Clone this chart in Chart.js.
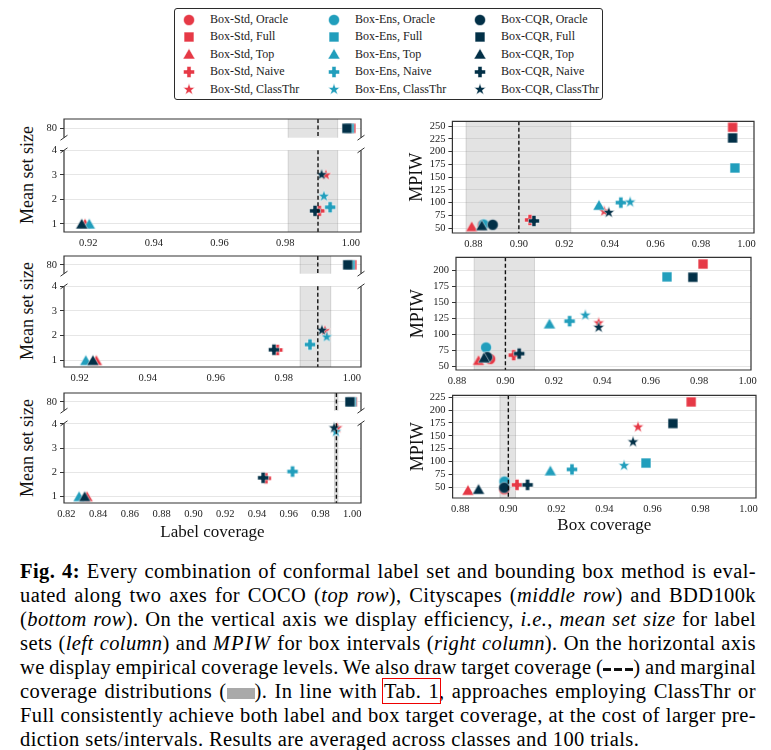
<!DOCTYPE html>
<html>
<head>
<meta charset="utf-8">
<title>Fig. 4</title>
<script src="https://cdn.jsdelivr.net/npm/chart.js@4.4.1/dist/chart.umd.min.js"></script>
<style>
html,body{margin:0;padding:0;background:#fff;}
body{position:relative;width:771px;height:750px;overflow:hidden;font-family:'Liberation Serif','Times New Roman',serif;color:#111;}
canvas{position:absolute;}
#legendBox{position:absolute;left:174px;top:8px;width:429px;height:92px;box-sizing:border-box;border:1.4px solid #2b2b2b;border-radius:3px;}
.legText{position:absolute;font-size:12px;line-height:14px;white-space:nowrap;color:#222;}
.ytitle{position:absolute;font-size:18px;white-space:nowrap;transform:translate(-50%,-50%) rotate(-90deg);color:#111;}
.cl{position:absolute;left:20px;width:736px;height:24px;line-height:24px;font-size:20.5px;letter-spacing:0.4px;white-space:nowrap;color:#000;}
.dash{display:inline-block;width:30px;height:3px;vertical-align:middle;background:repeating-linear-gradient(90deg,#111 0 8px,transparent 8px 11px);}
.gbox{display:inline-block;width:28px;height:11px;background:#a9a9a9;vertical-align:-1px;}
.ref{outline:1.5px solid #e00;outline-offset:1px;}
</style>
</head>
<body>
<div id="legendBox"></div>
<div class="ytitle" style="left:27px;top:175px;">Mean set size</div>
<div class="ytitle" style="left:27px;top:311px;">Mean set size</div>
<div class="ytitle" style="left:27px;top:448px;">Mean set size</div>

<div class="cl" style="top:559px"><span><b>Fig. 4:</b> Every combination of conformal label set and bounding box method is eval-</span></div>
<div class="cl" style="top:583px"><span>uated along two axes for COCO (<i>top row</i>), Cityscapes (<i>middle row</i>) and BDD100k</span></div>
<div class="cl" style="top:607px"><span>(<i>bottom row</i>). On the vertical axis we display efficiency, <i>i.e.</i>, <i>mean set size</i> for label</span></div>
<div class="cl" style="top:631px"><span>sets (<i>left column</i>) and <i style="letter-spacing:1.2px">MPIW</i> for box intervals (<i>right column</i>). On the horizontal axis</span></div>
<div class="cl" style="top:655px"><span>we display empirical coverage levels. We also draw target coverage (<span class="dash"></span>) and marginal</span></div>
<div class="cl" style="top:679px"><span>coverage distributions (<span class="gbox"></span>). In line with <span class="ref">Tab. 1</span>, approaches employing ClassThr or</span></div>
<div class="cl" style="top:703px"><span>Full consistently achieve both label and box target coverage, at the cost of larger pre-</span></div>
<div class="cl" style="top:727px"><span>diction sets/intervals. Results are averaged across classes and 100 trials.</span></div>

<script>
// ---------------- DATA ----------------
const BOX_METHODS = ['Box-Std', 'Box-Ens', 'Box-CQR'];
const LABEL_METHODS = ['Oracle', 'Full', 'Top', 'Naive', 'ClassThr'];

// Label sets (left column): [Oracle, Full, Top, Naive, ClassThr]
const COCO_LBL_STD_X = [null, 1.0000, 0.9190, 0.9904, 0.9924];
const COCO_LBL_STD_Y = [null, 80, 1.00, 1.53, 3.02];
const COCO_LBL_ENS_X = [null, 0.9995, 0.9203, 0.9937, 0.9918];
const COCO_LBL_ENS_Y = [null, 80, 1.00, 1.68, 2.15];
const COCO_LBL_CQR_X = [null, 0.9988, 0.9180, 0.9891, 0.9911];
const COCO_LBL_CQR_Y = [null, 80, 1.00, 1.53, 3.03];

const CITY_LBL_STD_X = [null, 1.0000, 0.9249, 0.9781, 0.9921];
const CITY_LBL_STD_Y = [null, 80, 1.00, 1.42, 2.22];
const CITY_LBL_ENS_X = [null, 0.9995, 0.9218, 0.9877, 0.9926];
const CITY_LBL_ENS_Y = [null, 80, 1.00, 1.64, 1.97];
const CITY_LBL_CQR_X = [null, 0.9988, 0.9239, 0.9771, 0.9912];
const CITY_LBL_CQR_Y = [null, 80, 1.00, 1.43, 2.24];

const BDD_LBL_STD_X = [null, 1.0000, 0.8330, 0.9456, 0.9905];
const BDD_LBL_STD_Y = [null, 80, 1.00, 1.75, 3.85];
const BDD_LBL_ENS_X = [null, 0.9995, 0.8280, 0.9624, 0.9897];
const BDD_LBL_ENS_Y = [null, 80, 1.00, 2.03, 3.69];
const BDD_LBL_CQR_X = [null, 0.9985, 0.8315, 0.9439, 0.9886];
const BDD_LBL_CQR_Y = [null, 80, 1.00, 1.77, 3.85];

// Box intervals (right column): [Oracle, Full, Top, Naive, ClassThr]
const COCO_BOX_STD_X = [0.8841, 0.9939, 0.8793, 0.9049, 0.9375];
const COCO_BOX_STD_Y = [56, 248, 53, 66, 84];
const COCO_BOX_ENS_X = [0.8845, 0.9949, 0.9352, 0.9448, 0.9489];
const COCO_BOX_ENS_Y = [57, 168, 95, 100, 102];
const COCO_BOX_CQR_X = [0.8885, 0.9939, 0.8837, 0.9066, 0.9395];
const COCO_BOX_CQR_Y = [56.5, 227, 55, 64, 81.5];

const CITY_BOX_STD_X = [0.8937, 0.9816, 0.8889, 0.9034, 0.9385];
const CITY_BOX_STD_Y = [62, 210, 60, 68, 119];
const CITY_BOX_ENS_X = [0.8920, 0.9667, 0.9182, 0.9265, 0.9330];
const CITY_BOX_ENS_Y = [80, 190, 117, 121, 131];
const CITY_BOX_CQR_X = [0.8925, 0.9774, 0.8912, 0.9057, 0.9385];
const CITY_BOX_CQR_Y = [65, 189.5, 64, 70.5, 112];

const BDD_BOX_STD_X = [0.8983, 0.9761, 0.8832, 0.9036, 0.9540];
const BDD_BOX_STD_Y = [46, 216, 44, 54.5, 168];
const BDD_BOX_ENS_X = [0.8984, 0.9573, 0.9175, 0.9265, 0.9482];
const BDD_BOX_ENS_Y = [61, 97, 82, 84.6, 93];
const BDD_BOX_CQR_X = [0.8983, 0.9685, 0.8876, 0.9080, 0.9519];
const BDD_BOX_CQR_Y = [49, 174, 46, 54.5, 139];

// Targets and marginal coverage bands
const LABEL_TARGET = 0.99;
const BOX_TARGET = 0.90;
const LABEL_BANDS = [[0.9809, 0.9960], [0.9848, 0.9938], [0.9888, 0.9910]];
const BOX_BANDS = [[0.8768, 0.9228], [0.8871, 0.9120], [0.8965, 0.9030]];

// Tick labels
const LBL_COV_TICKS = [0.92, 0.94, 0.96, 0.98, 1.00];
const LBL_COV_TICKS_BDD = [0.82, 0.84, 0.86, 0.88, 0.90, 0.92, 0.94, 0.96, 0.98, 1.00];
const SET_SIZE_TICKS = [1, 2, 3, 4];
const SET_SIZE_TOP_TICKS = [80];
const BOX_COV_TICKS = [0.88, 0.90, 0.92, 0.94, 0.96, 0.98, 1.00];
const MPIW_TICKS_COCO = [50, 75, 100, 125, 150, 175, 200, 225, 250];
const MPIW_TICKS_CITY = [50, 75, 100, 125, 150, 175, 200];
const MPIW_TICKS_BDD = [50, 75, 100, 125, 150, 175, 200, 225];

// ---------------- STYLE ----------------
const COLORS = ['#E63946', '#219EBC', '#023047'];
const SHAPES = ['circle', 'square', 'triangle', 'plus', 'star'];
const FONT = "'Liberation Serif', 'Times New Roman', serif";
Chart.defaults.font.family = FONT;
Chart.defaults.color = '#222';

function makeMarker(shape, color, r) {
  const S = Math.ceil(r * 2.5) + 2;
  const c = document.createElement('canvas');
  c.width = S; c.height = S;
  const g = c.getContext('2d');
  g.translate(S / 2, S / 2);
  g.beginPath();
  if (shape === 'circle') {
    g.arc(0, 0, r, 0, Math.PI * 2);
  } else if (shape === 'square') {
    g.rect(-r * 0.9, -r * 0.9, r * 1.8, r * 1.8);
  } else if (shape === 'triangle') {
    g.moveTo(0, -r * 1.0); g.lineTo(r * 1.1, r * 0.9); g.lineTo(-r * 1.1, r * 0.9);
  } else if (shape === 'plus') {
    const a = r, b = r * 0.37;
    const pts = [[-b,-a],[b,-a],[b,-b],[a,-b],[a,b],[b,b],[b,a],[-b,a],[-b,b],[-a,b],[-a,-b],[-b,-b]];
    pts.forEach((p, i) => i ? g.lineTo(p[0], p[1]) : g.moveTo(p[0], p[1]));
  } else if (shape === 'star') {
    for (let i = 0; i < 10; i++) {
      const rr = i % 2 ? r * 0.45 : r * 1.12;
      const ang = -Math.PI / 2 + i * Math.PI / 5;
      const px = rr * Math.cos(ang), py = rr * Math.sin(ang) + r * 0.08;
      i ? g.lineTo(px, py) : g.moveTo(px, py);
    }
  }
  g.closePath();
  g.fillStyle = color;
  g.fill();
  g.lineWidth = 0.6;
  g.strokeStyle = 'rgba(255,255,255,0.85)';
  g.stroke();
  return c;
}
const MARKERS = COLORS.map(col => SHAPES.map(sh => makeMarker(sh, col, 5.5)));

// ---------------- LEGEND ----------------
const LEG_MX = [189, 334, 480];
const LEG_TX = [210, 355, 501];
const LEG_Y0 = 19.5, LEG_DY = 17.4;
BOX_METHODS.forEach((b, bi) => LABEL_METHODS.forEach((m, mi) => {
  const mk = makeMarker(SHAPES[mi], COLORS[bi], 5.5);
  mk.style.left = (LEG_MX[bi] - mk.width / 2) + 'px';
  mk.style.top = (LEG_Y0 + mi * LEG_DY - mk.height / 2) + 'px';
  document.body.appendChild(mk);
  const t = document.createElement('div');
  t.className = 'legText';
  t.textContent = b + ', ' + m;
  t.style.left = LEG_TX[bi] + 'px';
  t.style.top = (LEG_Y0 + mi * LEG_DY - 7.5) + 'px';
  document.body.appendChild(t);
}));

// ---------------- DECORATION PLUGIN ----------------
const deco = {
  id: 'deco',
  beforeDatasetsDraw(chart, args, o) {
    const {ctx, chartArea: a} = chart;
    const xs = chart.scales.x;
    if (o.band) {
      const x0 = xs.getPixelForValue(o.band[0]), x1 = xs.getPixelForValue(o.band[1]);
      ctx.save();
      ctx.fillStyle = 'rgba(150,150,150,0.27)';
      ctx.fillRect(x0, a.top, x1 - x0, a.bottom - a.top);
      ctx.strokeStyle = 'rgba(140,140,140,0.3)';
      ctx.lineWidth = 1;
      ctx.beginPath();
      ctx.moveTo(x0, a.top); ctx.lineTo(x0, a.bottom);
      ctx.moveTo(x1, a.top); ctx.lineTo(x1, a.bottom);
      ctx.stroke();
      ctx.restore();
    }
  },
  afterDatasetsDraw(chart, args, o) {
    if (o.target == null) return;
    const {ctx, chartArea: a} = chart;
    const xt = chart.scales.x.getPixelForValue(o.target);
    ctx.save();
    ctx.strokeStyle = '#111';
    ctx.lineWidth = 1.4;
    ctx.setLineDash([4, 2.5]);
    ctx.beginPath();
    ctx.moveTo(xt, a.top); ctx.lineTo(xt, a.bottom);
    ctx.stroke();
    ctx.restore();
  },
  afterDraw(chart, args, o) {
    const {ctx, chartArea: a} = chart;
    ctx.save();
    ctx.strokeStyle = '#333';
    ctx.lineWidth = 1.2;
    ctx.beginPath();
    if (o.spines === 'box') {
      ctx.rect(a.left, a.top, a.right - a.left, a.bottom - a.top);
    } else if (o.spines === 'upper') {
      ctx.moveTo(a.left, a.bottom); ctx.lineTo(a.left, a.top); ctx.lineTo(a.right, a.top); ctx.lineTo(a.right, a.bottom);
    } else if (o.spines === 'lower') {
      ctx.moveTo(a.left, a.top); ctx.lineTo(a.left, a.bottom); ctx.lineTo(a.right, a.bottom); ctx.lineTo(a.right, a.top);
    }
    ctx.stroke();
    if (o.spines === 'upper' || o.spines === 'lower') {
      const y = o.spines === 'upper' ? a.bottom : a.top;
      ctx.lineWidth = 1;
      ctx.beginPath();
      [a.left, a.right].forEach(x => {
        ctx.moveTo(x - 3.5, y + 2.5); ctx.lineTo(x + 3.5, y - 2.5);
      });
      ctx.stroke();
    }
    ctx.restore();
  }
};

// ---------------- CHART FACTORY ----------------
function makeChart(c) {
  const padT = c.padT != null ? c.padT : 10;
  const padB = c.padB != null ? c.padB : 0;
  const padR = 14;
  const canvas = document.createElement('canvas');
  const W = Math.round((c.R - c.L) + c.yW + padR);
  const H = Math.round((c.B - c.T) + padT + c.xH + padB);
  canvas.width = W; canvas.height = H;
  canvas.style.width = W + 'px'; canvas.style.height = H + 'px';
  canvas.style.left = (c.L - c.yW) + 'px';
  canvas.style.top = (c.T - padT) + 'px';
  document.body.appendChild(canvas);

  const datasets = c.series.map((s, b) => ({
    label: BOX_METHODS[b],
    data: s.X.map((x, i) => ({x: x, y: s.Y[i], m: i})).filter(p => p.x !== null),
    pointStyle: ctx => MARKERS[b][ctx.raw ? ctx.raw.m : 0],
    pointRadius: 6,
    backgroundColor: COLORS[b],
    borderColor: COLORS[b],
    order: 2 - b,
    clip: 12
  }));

  return new Chart(canvas, {
    type: 'scatter',
    data: {datasets},
    options: {
      responsive: false,
      animation: false,
      events: [],
      layout: {padding: {top: padT, right: padR, bottom: padB, left: 0}},
      plugins: {
        legend: {display: false},
        tooltip: {enabled: false},
        deco: {band: c.band, target: c.target, spines: c.spines}
      },
      scales: {
        x: {
          type: 'linear', display: c.showX, min: c.xMin, max: c.xMax, bounds: 'data',
          afterBuildTicks: s => { s.ticks = c.xTicks.map(v => ({value: v})); },
          afterFit: s => { s.height = c.xH; },
          grid: {display: false, drawTicks: false},
          border: {display: false},
          ticks: {padding: 5, font: {size: 10.5}, color: '#222', autoSkip: false, maxRotation: 0,
                  callback: v => Number(v).toFixed(2)},
          title: c.xTitle ? {display: true, text: c.xTitle, font: {size: 17}, color: '#111', padding: 0}
                          : {display: false}
        },
        y: {
          type: 'linear', min: c.yMin, max: c.yMax, bounds: 'data',
          afterBuildTicks: s => { s.ticks = c.yTicks.map(v => ({value: v})); },
          afterFit: s => { s.width = c.yW; },
          grid: {color: '#e6e6e6', lineWidth: 1, drawTicks: true, tickLength: 4, tickColor: '#333', tickWidth: 1},
          border: {display: false},
          ticks: {padding: 3, font: {size: 10.5}, color: '#222', autoSkip: false, callback: v => String(v)},
          title: c.yTitle ? {display: true, text: c.yTitle, font: {size: 18}, color: '#111', padding: 0}
                          : {display: false}
        }
      }
    },
    plugins: [deco]
  });
}

// ---------------- LEFT COLUMN (broken axes) ----------------
const LEFT_ROWS = [
  {topT: 119, topB: 141, botT: 149, botB: 232, xMin: 0.9126, xMax: 1.0031, yMin: 0.665, yMax: 4.01,
   xTicks: LBL_COV_TICKS, band: LABEL_BANDS[0], xH: 22, xTitle: null,
   series: [{X: COCO_LBL_STD_X, Y: COCO_LBL_STD_Y}, {X: COCO_LBL_ENS_X, Y: COCO_LBL_ENS_Y}, {X: COCO_LBL_CQR_X, Y: COCO_LBL_CQR_Y}]},
  {topT: 256, topB: 277, botT: 285, botB: 367, xMin: 0.9154, xMax: 1.0027, yMin: 0.73, yMax: 4.0,
   xTicks: LBL_COV_TICKS, band: LABEL_BANDS[1], xH: 22, xTitle: null,
   series: [{X: CITY_LBL_STD_X, Y: CITY_LBL_STD_Y}, {X: CITY_LBL_ENS_X, Y: CITY_LBL_ENS_Y}, {X: CITY_LBL_CQR_X, Y: CITY_LBL_CQR_Y}]},
  {topT: 393, topB: 414, botT: 422, botB: 503, xMin: 0.8185, xMax: 1.0055, yMin: 0.73, yMax: 4.02,
   xTicks: LBL_COV_TICKS_BDD, band: LABEL_BANDS[2], xH: 40, xTitle: 'Label coverage',
   series: [{X: BDD_LBL_STD_X, Y: BDD_LBL_STD_Y}, {X: BDD_LBL_ENS_X, Y: BDD_LBL_ENS_Y}, {X: BDD_LBL_CQR_X, Y: BDD_LBL_CQR_Y}]}
];
LEFT_ROWS.forEach(r => {
  makeChart({L: 64, R: 361, T: r.topT, B: r.topB, yW: 40, xH: 0, padB: 6, showX: false,
    xMin: r.xMin, xMax: r.xMax, yMin: 79.5, yMax: 80.5, xTicks: r.xTicks, yTicks: SET_SIZE_TOP_TICKS,
    band: r.band, target: LABEL_TARGET, spines: 'upper', series: r.series});
  makeChart({L: 64, R: 361, T: r.botT, B: r.botB, yW: 40, xH: r.xH, padT: 8, showX: true, xTitle: r.xTitle,
    xMin: r.xMin, xMax: r.xMax, yMin: r.yMin, yMax: r.yMax, xTicks: r.xTicks, yTicks: SET_SIZE_TICKS,
    band: r.band, target: LABEL_TARGET, spines: 'lower', series: r.series});
});

// ---------------- RIGHT COLUMN ----------------
const RIGHT_ROWS = [
  {L: 452.3, R: 754.3, T: 120, B: 233.3, yW: 46.4, xMin: 0.8708, xMax: 1.0033, yMin: 40.3, yMax: 259.7,
   yTicks: MPIW_TICKS_COCO, band: BOX_BANDS[0], xH: 22, xTitle: null,
   series: [{X: COCO_BOX_STD_X, Y: COCO_BOX_STD_Y}, {X: COCO_BOX_ENS_X, Y: COCO_BOX_ENS_Y}, {X: COCO_BOX_CQR_X, Y: COCO_BOX_CQR_Y}]},
  {L: 455.7, R: 750.7, T: 256, B: 370, yW: 49, xMin: 0.8796, xMax: 1.0014, yMin: 44.9, yMax: 220.5,
   yTicks: MPIW_TICKS_CITY, band: BOX_BANDS[1], xH: 22, xTitle: null,
   series: [{X: CITY_BOX_STD_X, Y: CITY_BOX_STD_Y}, {X: CITY_BOX_ENS_X, Y: CITY_BOX_ENS_Y}, {X: CITY_BOX_CQR_X, Y: CITY_BOX_CQR_Y}]},
  {L: 452.3, R: 755.7, T: 394, B: 498.3, yW: 45.6, xMin: 0.8768, xMax: 1.0031, yMin: 28.9, yMax: 228.8,
   yTicks: MPIW_TICKS_BDD, band: BOX_BANDS[2], xH: 38, xTitle: 'Box coverage',
   series: [{X: BDD_BOX_STD_X, Y: BDD_BOX_STD_Y}, {X: BDD_BOX_ENS_X, Y: BDD_BOX_ENS_Y}, {X: BDD_BOX_CQR_X, Y: BDD_BOX_CQR_Y}]}
];
RIGHT_ROWS.forEach(r => {
  makeChart({L: r.L, R: r.R, T: r.T, B: r.B, yW: r.yW, xH: r.xH, padT: 8, showX: true, xTitle: r.xTitle, yTitle: 'MPIW',
    xMin: r.xMin, xMax: r.xMax, yMin: r.yMin, yMax: r.yMax, xTicks: BOX_COV_TICKS, yTicks: r.yTicks,
    band: r.band, target: BOX_TARGET, spines: 'box', series: r.series});
});

// ---------------- CAPTION JUSTIFICATION ----------------
const CAP_W = 736;
const lines = document.querySelectorAll('.cl');
lines.forEach((el, i) => {
  if (i === lines.length - 1) return;
  const span = el.firstElementChild;
  const w = span.getBoundingClientRect().width;
  const n = (span.textContent.match(/ /g) || []).length;
  if (n > 0) span.style.wordSpacing = ((CAP_W - w) / n) + 'px';
});
</script>
</body>
</html>
